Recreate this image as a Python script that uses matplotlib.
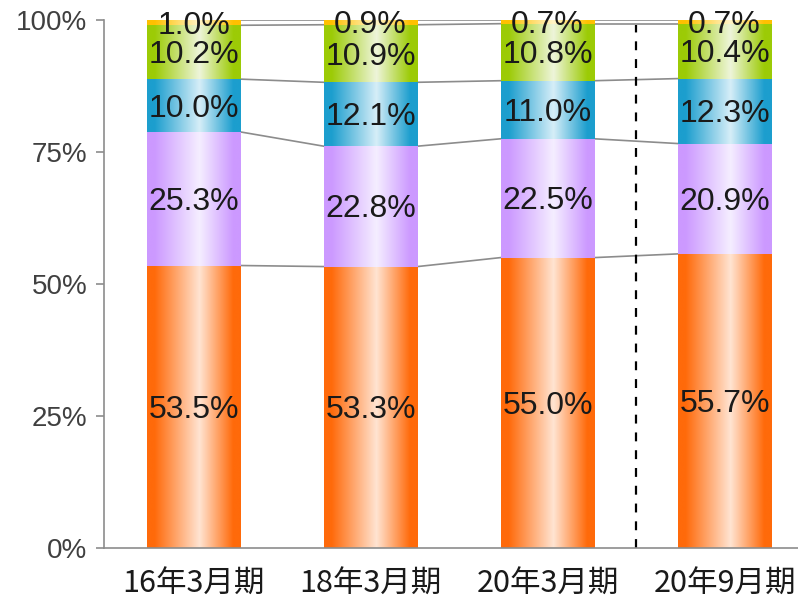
import numpy as np
import matplotlib
matplotlib.use("Agg")
import matplotlib.pyplot as plt
from matplotlib.colors import LinearSegmentedColormap

periods = ["16年3月期", "18年3月期", "20年3月期", "20年9月期"]
seg_orange = [53.5, 53.3, 55.0, 55.7]
seg_purple = [25.3, 22.8, 22.5, 20.9]
seg_blue = [10.0, 12.1, 11.0, 12.3]
seg_green = [10.2, 10.9, 10.8, 10.4]
seg_yellow = [1.0, 0.9, 0.7, 0.7]

series = [seg_orange, seg_purple, seg_blue, seg_green, seg_yellow]
# (edge colour, centre colour) for the horizontal gradient
shades = [("#FF6A0A", "#FFE4D2"),
          ("#CC99FF", "#F5EEFF"),
          ("#1C9ECE", "#D6EEF8"),
          ("#9CCB06", "#EEF5DA"),
          ("#FFC000", "#FFF5C8")]

fig = plt.figure(figsize=(7.98, 6.02), dpi=100)
ax = fig.add_axes([0.1303, 0.0897, 0.8697, 0.8771])

x = np.arange(len(periods))
width = 0.53
grad = np.linspace(0, 1, 256).reshape(1, -1)

bottom = np.zeros(len(periods))
tops = [bottom.copy()]
for vals, (dark, light) in zip(series, shades):
    vals = np.array(vals)
    cmap = LinearSegmentedColormap.from_list(
        "g", [(0, dark), (0.08, dark), (0.56, light), (0.92, dark), (1, dark)])
    bars = ax.bar(x, vals, width, bottom=bottom, color="none", edgecolor="none")
    for rect, v, b in zip(bars, vals, bottom):
        x0 = rect.get_x()
        im = ax.imshow(grad, cmap=cmap, aspect="auto",
                       extent=(x0, x0 + width, b, b + v), zorder=2)
        im.set_clip_path(rect)
        # labels sit a few pixels below the segment centre
        ax.annotate(f"{v:.1f}%", (x0 + width / 2, b + v / 2),
                    xytext=(0, -3), textcoords="offset pixels",
                    ha="center", va="center", fontsize=23, color="#1a1a1a",
                    family="Liberation Sans", zorder=4)
    bottom = bottom + vals
    tops.append(bottom.copy())

# connector lines between neighbouring bars
for lvl in tops[1:]:
    for i in range(len(periods) - 1):
        ax.plot([x[i] + width / 2, x[i + 1] - width / 2], [lvl[i], lvl[i + 1]],
                color="#8c8c8c", lw=1.2, zorder=1)

ax.axvline(2.5, ymin=0, ymax=0.99, color="black", lw=1.6,
           ls=(0, (4, 4)), zorder=1)

ax.set_xlim(-0.506, 3.415)
ax.set_ylim(0, 100)
ax.set_yticks([0, 25, 50, 75, 100])
ax.set_yticklabels(["0%", "25%", "50%", "75%", "100%"],
                   fontsize=20, color="#404040", family="Liberation Sans")
ax.set_xticks(x)
ax.set_xticklabels(periods, fontsize=22, color="#1a1a1a",
                   family=["Noto Sans CJK JP", "DejaVu Sans"])
ax.tick_params(axis="y", length=6, width=1.2, color="#8c8c8c", pad=6)
ax.tick_params(axis="x", length=0, pad=15)
for s in ["top", "right"]:
    ax.spines[s].set_visible(False)
for s in ["left", "bottom"]:
    ax.spines[s].set_color("#8c8c8c")
    ax.spines[s].set_linewidth(1.2)

fig.savefig("out.png", dpi=100)
